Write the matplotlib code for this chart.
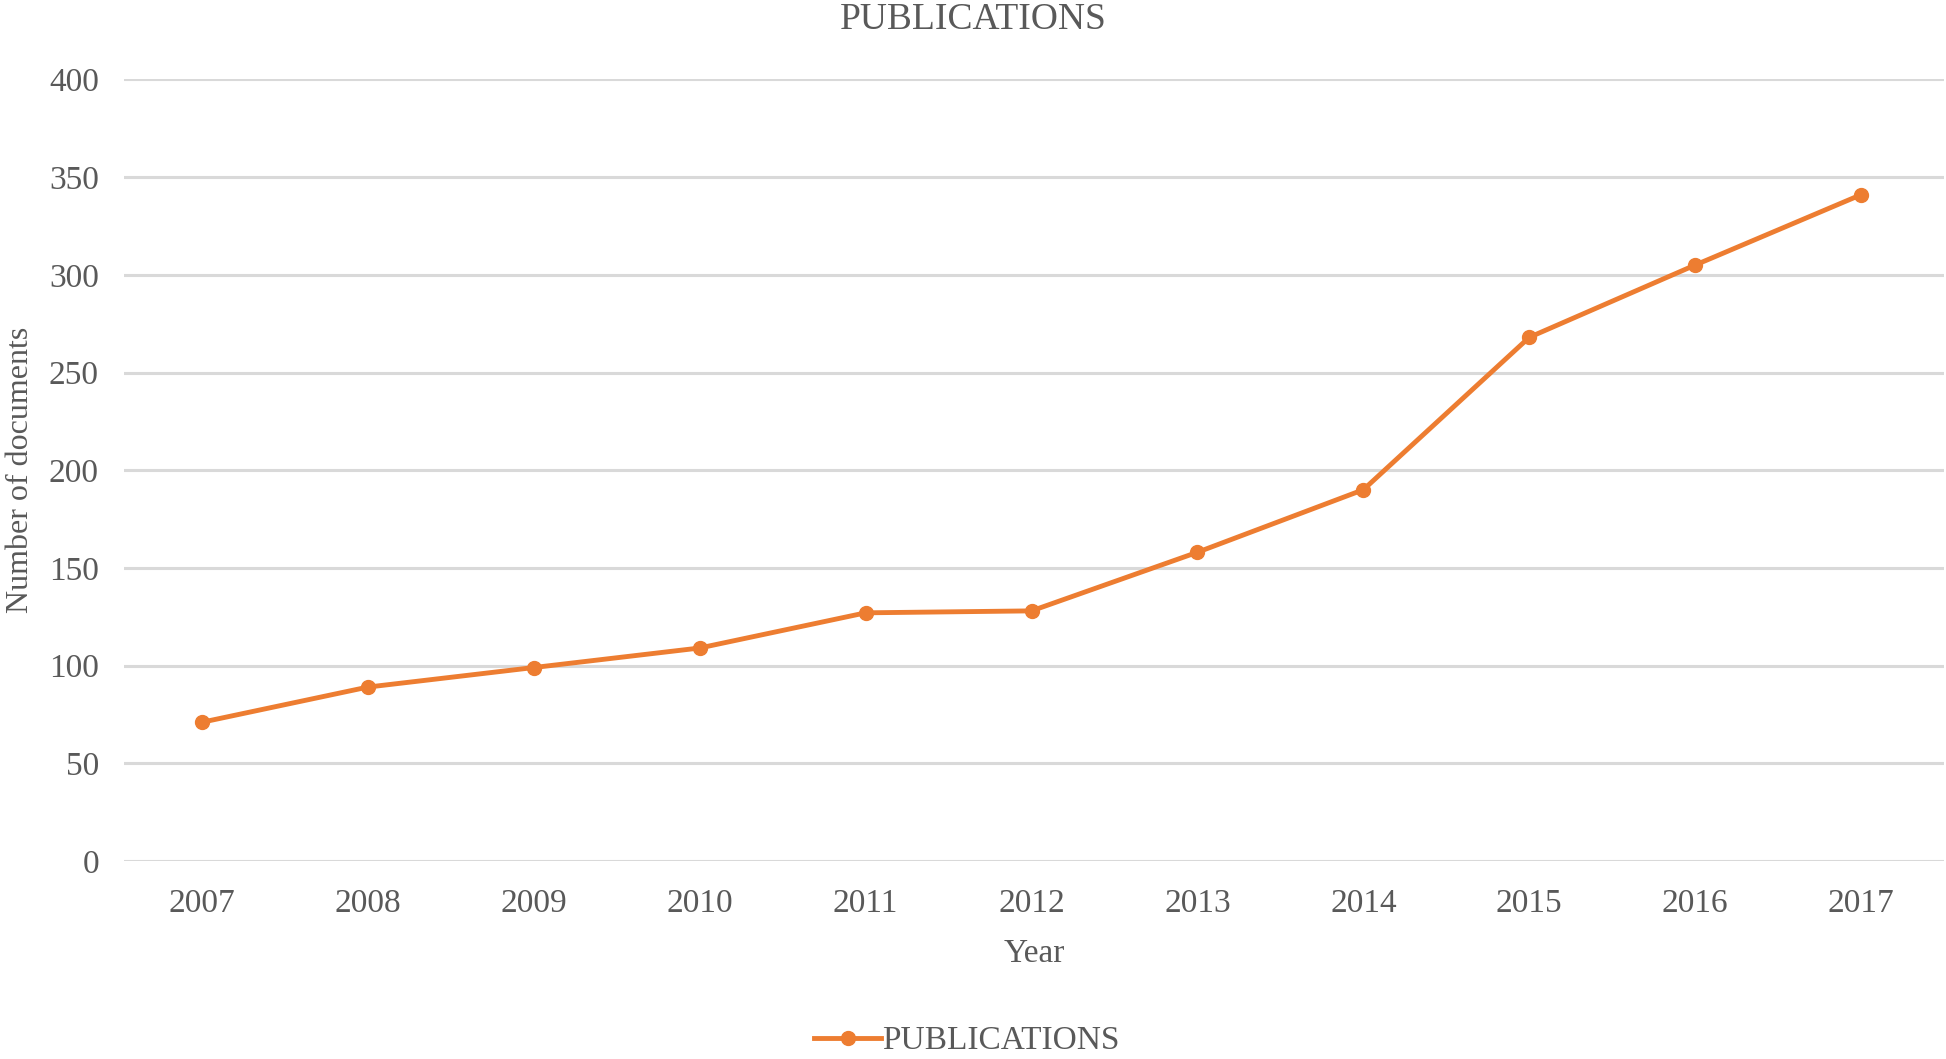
import matplotlib
matplotlib.use("Agg")
import matplotlib.pyplot as plt

years = ["2007", "2008", "2009", "2010", "2011", "2012", "2013", "2014", "2015", "2016", "2017"]
publications = [71, 89, 99, 109, 127, 128, 158, 190, 268, 305, 341]
y_ticks = [0, 50, 100, 150, 200, 250, 300, 350, 400]

ORANGE = "#ED7D31"
TEXT = "#595959"
GRID = "#D9D9D9"

plt.rcParams["font.family"] = ["Liberation Serif", "DejaVu Serif"]

fig = plt.figure(figsize=(19.46, 10.59), dpi=100)
ax = fig.add_axes([0.0637, 0.187, 0.9353, 0.738])

x = list(range(len(years)))
ax.plot(x, publications, color=ORANGE, lw=3.5, marker="o", markersize=10,
        label="PUBLICATIONS", solid_joinstyle="round", zorder=3)

ax.set_xlim(-0.47, len(years) - 0.5)
ax.set_ylim(0, 400)
ax.set_yticks(y_ticks)
ax.set_xticks(x)
ax.set_xticklabels(years)
ax.grid(axis="y", color=GRID, lw=2.2)
ax.set_axisbelow(True)
for s in ax.spines.values():
    s.set_visible(False)
ax.tick_params(axis="both", length=0, labelsize=24, colors=TEXT)
ax.tick_params(axis="y", pad=18)
ax.tick_params(axis="x", pad=20)

ax.set_xlabel("Year", fontsize=24, color=TEXT, labelpad=14)
ax.set_ylabel("Number of documents", fontsize=23, color=TEXT)
ax.yaxis.set_label_coords(-0.049, 0.5)

fig.text(0.5, 0.981, "PUBLICATIONS", ha="center", va="center", fontsize=27, color=TEXT)

leg = fig.legend(loc="center", bbox_to_anchor=(0.497, 0.017), frameon=False,
                 fontsize=24, handlelength=2.0, handletextpad=0.05)
for t in leg.get_texts():
    t.set_color(TEXT)

fig.savefig("out.png", dpi=100, facecolor="white")
